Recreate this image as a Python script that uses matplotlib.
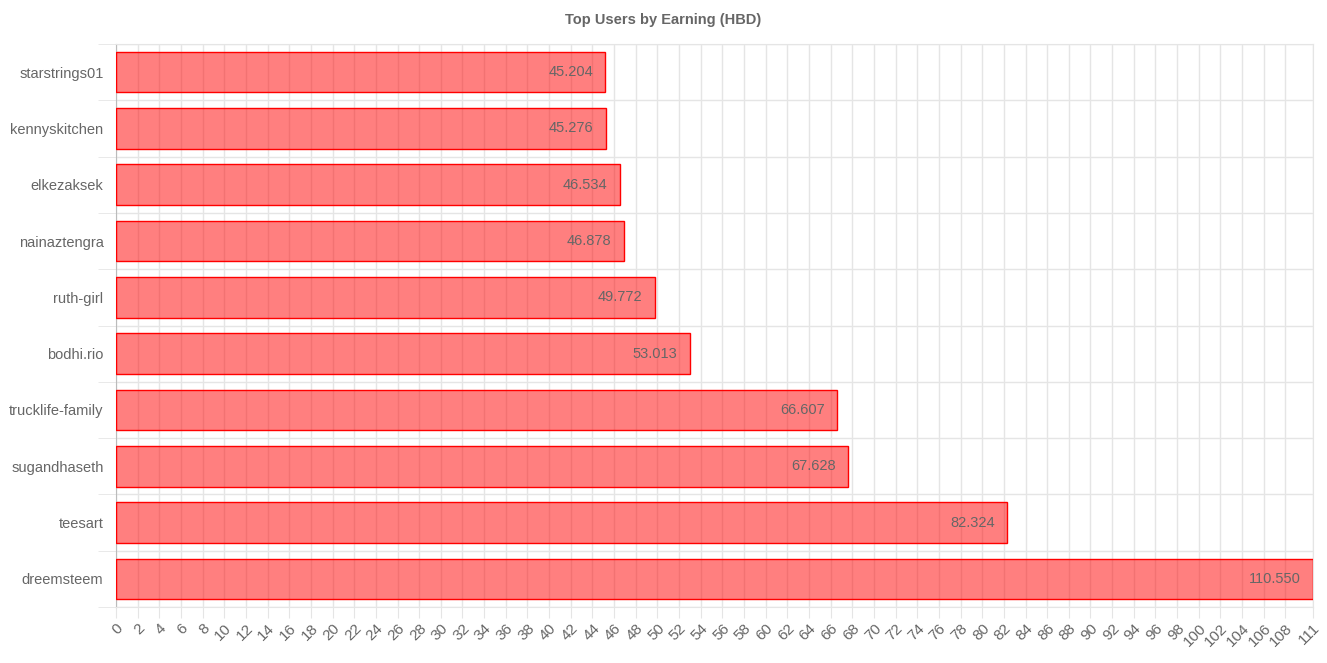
import numpy as np
import matplotlib.pyplot as plt

users = ["starstrings01", "kennyskitchen", "elkezaksek", "nainaztengra", "ruth-girl",
         "bodhi.rio", "trucklife-family", "sugandhaseth", "teesart", "dreemsteem"]
earnings = [45.204, 45.276, 46.534, 46.878, 49.772, 53.013, 66.607, 67.628, 82.324, 110.550]

plt.rcParams['font.family'] = ['Liberation Sans', 'DejaVu Sans']
gray = '#666666'
grid = '#e5e5e5'

fig = plt.figure(figsize=(13.27, 6.63), dpi=100)
ax = fig.add_axes([116 / 1327, 56 / 663, (1313 - 116) / 1327, (607 - 44) / 663])

y = np.arange(len(users))
ax.barh(y, earnings, height=0.72, color=(1, 0, 0, 0.5), edgecolor='red', linewidth=1.0, zorder=3)

for yi, v in zip(y, earnings):
    ax.annotate(f"{v:.3f}", (v, yi), xytext=(-9, 0), textcoords='offset points',
                ha='right', va='center', fontsize=10.5, color=gray, zorder=4)

xmax = max(earnings)
ax.set_xlim(0, xmax)
ax.set_ylim(len(users) - 0.5, -0.5)

xt = list(range(0, 110, 2)) + [xmax]
ax.set_xticks(xt)
ax.set_xticklabels([str(t) for t in range(0, 110, 2)] + [str(round(xmax))],
                   rotation=45, ha='right', rotation_mode='anchor', fontsize=11, color=gray)
ax.tick_params(axis='x', length=8, color=grid, pad=2)

ax.set_yticks(y)
ax.set_yticklabels(users, fontsize=10.5, color=gray)
ax.tick_params(axis='y', length=0, pad=9)
ax.set_yticks(np.arange(-0.5, len(users)), minor=True)
ax.tick_params(axis='y', which='minor', length=13, color=grid)

ax.grid(axis='x', color=grid, linewidth=1, zorder=0)
ax.grid(axis='y', which='minor', color=grid, linewidth=1, zorder=0)
ax.grid(axis='y', which='major', visible=False)

for s in ['top', 'right']:
    ax.spines[s].set_color(grid)
ax.spines['left'].set_color('#bbbbbb')
ax.spines['bottom'].set_color(grid)

fig.text(0.5, 1 - 20 / 663, "Top Users by Earning (HBD)", ha='center', va='center',
         fontsize=10.5, fontweight='bold', color=gray)

fig.savefig("out.png", dpi=100)
